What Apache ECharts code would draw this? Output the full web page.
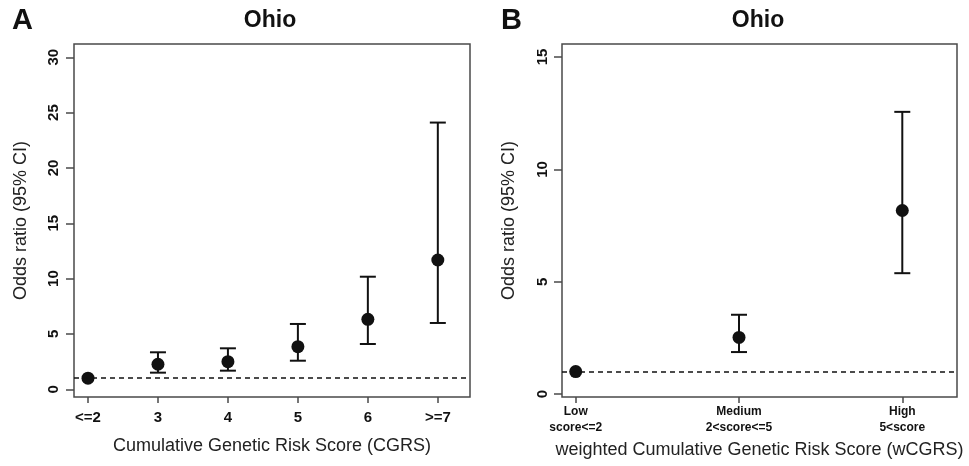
<!DOCTYPE html>
<html>
<head>
<meta charset="utf-8">
<script src="https://cdn.jsdelivr.net/npm/echarts@6/dist/echarts.min.js"></script>
<style>html,body{margin:0;padding:0;background:#fff}#c{width:969px;height:466px}</style>
</head>
<body>
<div id="c"></div>
<script>
// Panel A data
var catsA = ['<=2', '3', '4', '5', '6', '>=7'];
var orA = [1.0, 2.26, 2.49, 3.85, 6.32, 11.68];
var lowA = [null, 1.5, 1.68, 2.58, 4.09, 5.99];
var highA = [null, 3.34, 3.7, 5.9, 10.17, 24.1];
var ticksA = [0, 5, 10, 15, 20, 25, 30];
// Panel B data
var catsB = ['Low\nscore<=2', 'Medium\n2<score<=5', 'High\n5<score'];
var orB = [1.0, 2.52, 8.17];
var lowB = [null, 1.87, 5.38];
var highB = [null, 3.53, 12.56];
var ticksB = [0, 5, 10, 15];
var refLine = 1;

var FONT = 'Liberation Sans, Arial, Helvetica, sans-serif';
var INK = '#111';
var FRAME = '#4a4a4a';

function pos(arr) { return arr.map(function (_, i) { return i + 1; }); }
function pts(or) { return or.map(function (v, i) { return [i + 1, v]; }); }
function bars(lo, hi) {
  var out = [];
  lo.forEach(function (v, i) { if (v != null) out.push([i + 1, v, hi[i]]); });
  return out;
}
function errRender(params, api) {
  var x = api.value(0);
  var lo = api.coord([x, api.value(1)]);
  var hi = api.coord([x, api.value(2)]);
  var w = 8;
  var st = { stroke: INK, lineWidth: 2 };
  return {
    type: 'group',
    children: [
      { type: 'line', shape: { x1: lo[0], y1: lo[1], x2: hi[0], y2: hi[1] }, style: st },
      { type: 'line', shape: { x1: lo[0] - w, y1: lo[1], x2: lo[0] + w, y2: lo[1] }, style: st },
      { type: 'line', shape: { x1: hi[0] - w, y1: hi[1], x2: hi[0] + w, y2: hi[1] }, style: st }
    ]
  };
}
function xAx(idx, cats, min, max, name, lblSize, margin, gap) {
  return {
    type: 'value', gridIndex: idx, min: min, max: max,
    splitLine: { show: false },
    axisLine: { show: false, onZero: false },
    axisTick: { show: true, length: 6, customValues: pos(cats), lineStyle: { color: FRAME, width: 1.5 } },
    axisLabel: {
      customValues: pos(cats), margin: margin,
      formatter: function (v) { return cats[Math.round(v) - 1] || ''; },
      fontFamily: FONT, fontWeight: 'bold', fontSize: lblSize, color: INK, lineHeight: 16
    },
    name: name, nameLocation: 'middle', nameGap: gap,
    nameTextStyle: { fontFamily: FONT, fontSize: 18, color: '#222' }
  };
}
function yAx(idx, ticks, min, max, margin) {
  return {
    type: 'value', gridIndex: idx, min: min, max: max,
    splitLine: { show: false },
    axisLine: { show: false, onZero: false },
    axisTick: { show: true, length: 8, customValues: ticks, lineStyle: { color: FRAME, width: 1.5 } },
    axisLabel: {
      customValues: ticks, rotate: 90, margin: margin,
      fontFamily: FONT, fontWeight: 'bold', fontSize: 15, color: INK
    },
    name: 'Odds ratio (95% CI)', nameLocation: 'middle', nameGap: 44,
    nameTextStyle: { fontFamily: FONT, fontSize: 18, color: '#222' }
  };
}
function dashLine() {
  return {
    silent: true, symbol: 'none', label: { show: false },
    lineStyle: { color: INK, type: [5, 4], width: 1.5 },
    data: [{ yAxis: refLine }]
  };
}

var chart = echarts.init(document.getElementById('c'), null, { renderer: 'canvas' });
chart.setOption({
  animation: false,
  backgroundColor: '#fff',
  title: [
    { text: 'A', left: 12, top: 6, padding: 0, textStyle: { fontFamily: FONT, fontSize: 29, fontWeight: 'bold', color: INK } },
    { text: 'Ohio', left: 270, top: 9, padding: 0, textAlign: 'center', textStyle: { fontFamily: FONT, fontSize: 23, fontWeight: 'bold', color: INK } },
    { text: 'B', left: 501, top: 6, padding: 0, textStyle: { fontFamily: FONT, fontSize: 29, fontWeight: 'bold', color: INK } },
    { text: 'Ohio', left: 758, top: 9, padding: 0, textAlign: 'center', textStyle: { fontFamily: FONT, fontSize: 23, fontWeight: 'bold', color: INK } }
  ],
  grid: [
    { left: 74, top: 44, width: 396, height: 353, show: true, borderColor: FRAME, borderWidth: 1.5, backgroundColor: 'transparent' },
    { left: 562, top: 44, width: 395, height: 353, show: true, borderColor: FRAME, borderWidth: 1.5, backgroundColor: 'transparent' }
  ],
  xAxis: [
    xAx(0, catsA, 0.8, 6.46, 'Cumulative Genetic Risk Score (CGRS)', 15, 13, 40),
    xAx(1, catsB, 0.916, 3.335, 'weighted Cumulative Genetic Risk Score (wCGRS)', 12, 7, 41)
  ],
  yAxis: [
    yAx(0, ticksA, -0.7, 31.2, 13),
    yAx(1, ticksB, -0.13, 15.58, 12)
  ],
  series: [
    { type: 'custom', xAxisIndex: 0, yAxisIndex: 0, renderItem: errRender, data: bars(lowA, highA), z: 2 },
    { type: 'scatter', xAxisIndex: 0, yAxisIndex: 0, data: pts(orA), symbolSize: 13, itemStyle: { color: INK, opacity: 1 }, z: 3, markLine: dashLine() },
    { type: 'custom', xAxisIndex: 1, yAxisIndex: 1, renderItem: errRender, data: bars(lowB, highB), z: 2 },
    { type: 'scatter', xAxisIndex: 1, yAxisIndex: 1, data: pts(orB), symbolSize: 13, itemStyle: { color: INK, opacity: 1 }, z: 3, markLine: dashLine() }
  ]
});
</script>
</body>
</html>
